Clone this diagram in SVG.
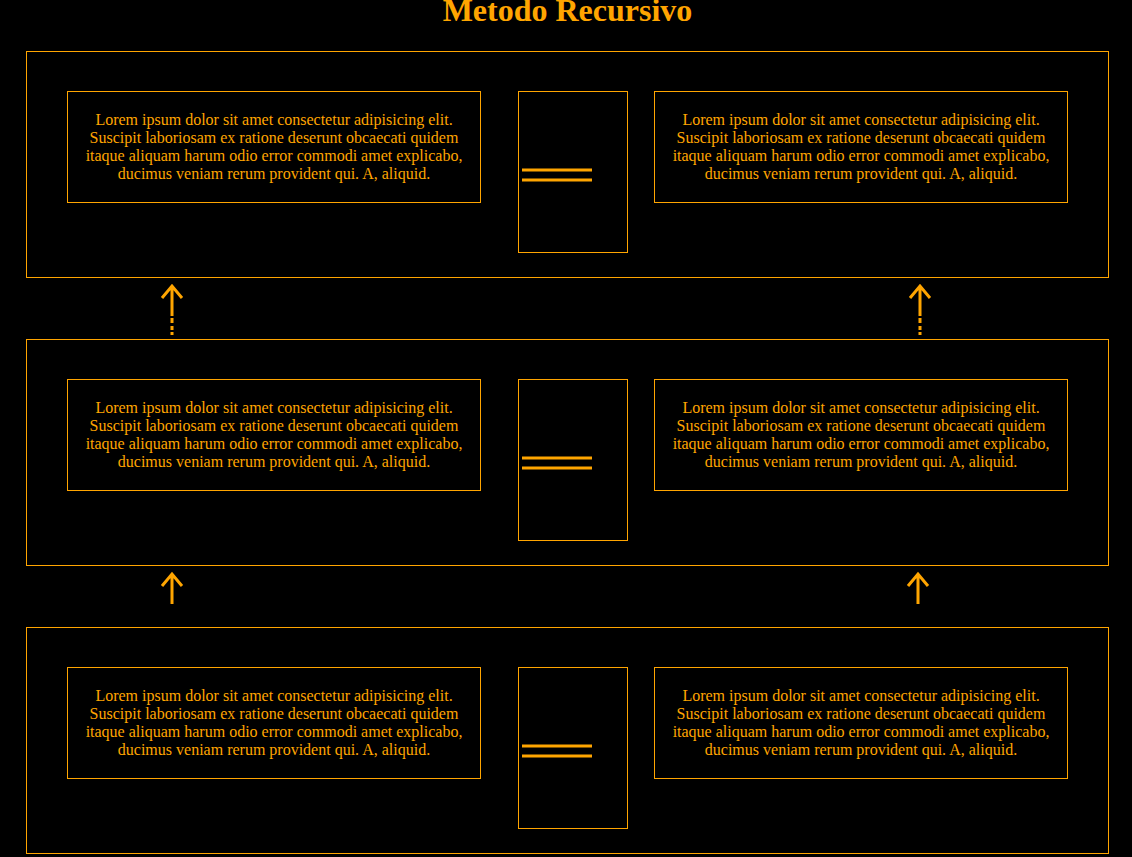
<svg xmlns="http://www.w3.org/2000/svg" width="1132" height="857" viewBox="0 0 1132 857">
<style>
.bg{fill:#000}
.box{fill:none;stroke:#FFA500;stroke-width:1}
.eq{stroke:#FFA500;stroke-width:3}
.txt{fill:#FFA500;font-family:"Liberation Serif","Times New Roman",serif;font-size:16px;text-anchor:middle}
.title{fill:#FFA500;font-family:"Liberation Serif","Times New Roman",serif;font-size:32px;font-weight:bold;text-anchor:middle}
.arr{stroke:#FFA500;stroke-width:3;fill:none}
</style>
<defs>
<g id="para">
<text class="txt"><tspan x="0" y="0">Lorem ipsum dolor sit amet consectetur adipisicing elit.</tspan><tspan x="0" y="18">Suscipit laboriosam ex ratione deserunt obcaecati quidem</tspan><tspan x="0" y="36">itaque aliquam harum odio error commodi amet explicabo,</tspan><tspan x="0" y="54">ducimus veniam rerum provident qui. A, aliquid.</tspan></text>
</g>
</defs>
<rect class="bg" x="0" y="0" width="1132" height="857"/>
<text class="title" x="567.5" y="21">Metodo Recursivo</text>

<g id="row1">
<rect class="box" x="26.5" y="51.5" width="1082" height="226"/>
<g id="row1-left"><rect class="box" x="67.5" y="91.5" width="413" height="111"/><use href="#para" x="274" y="125"/></g>
<g id="row1-eq"><rect class="box" x="518.5" y="91.5" width="109" height="161"/><line class="eq" x1="522" y1="170" x2="592" y2="170"/><line class="eq" x1="522" y1="180" x2="592" y2="180"/></g>
<g id="row1-right"><rect class="box" x="654.5" y="91.5" width="413" height="111"/><use href="#para" x="861" y="125"/></g>
</g>

<g id="row2">
<rect class="box" x="26.5" y="339.5" width="1082" height="226"/>
<g id="row2-left"><rect class="box" x="67.5" y="379.5" width="413" height="111"/><use href="#para" x="274" y="413"/></g>
<g id="row2-eq"><rect class="box" x="518.5" y="379.5" width="109" height="161"/><line class="eq" x1="522" y1="458" x2="592" y2="458"/><line class="eq" x1="522" y1="468" x2="592" y2="468"/></g>
<g id="row2-right"><rect class="box" x="654.5" y="379.5" width="413" height="111"/><use href="#para" x="861" y="413"/></g>
</g>

<g id="row3">
<rect class="box" x="26.5" y="627.5" width="1082" height="226"/>
<g id="row3-left"><rect class="box" x="67.5" y="667.5" width="413" height="111"/><use href="#para" x="274" y="701"/></g>
<g id="row3-eq"><rect class="box" x="518.5" y="667.5" width="109" height="161"/><line class="eq" x1="522" y1="746" x2="592" y2="746"/><line class="eq" x1="522" y1="756" x2="592" y2="756"/></g>
<g id="row3-right"><rect class="box" x="654.5" y="667.5" width="413" height="111"/><use href="#para" x="861" y="701"/></g>
</g>

<g id="connectors">
<path class="arr" d="M162 298 L172 286 L182 298 M172 286 L172 316 M172 318 L172 323 M172 326 L172 330 M172 332 L172 335"/>
<path class="arr" d="M910 298 L920 286 L930 298 M920 286 L920 316 M920 318 L920 323 M920 326 L920 330 M920 332 L920 335"/>
<path class="arr" d="M162 586 L172 574 L182 586 M172 574 L172 604"/>
<path class="arr" d="M908 586 L918 574 L928 586 M918 574 L918 604"/>
</g>
</svg>
